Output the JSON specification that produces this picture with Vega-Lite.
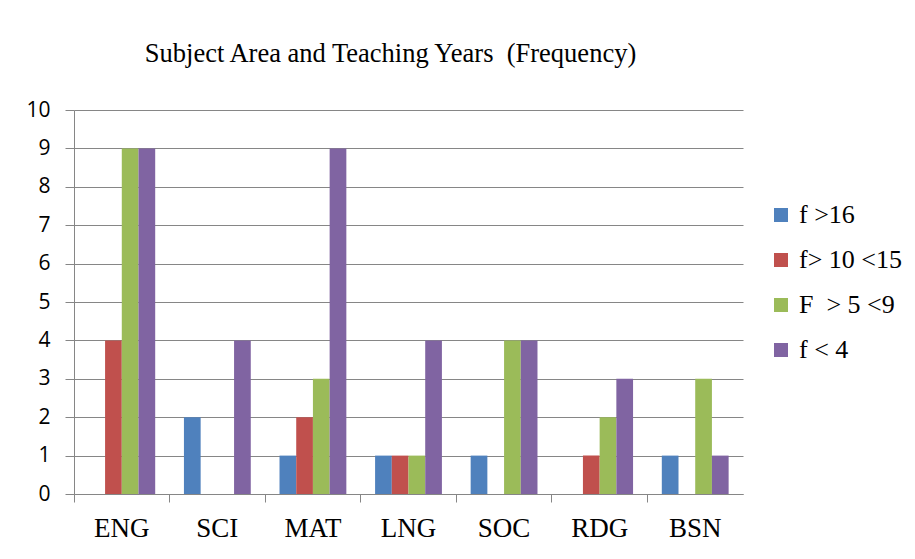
{
  "$schema": "https://vega.github.io/schema/vega-lite/v6.json",
  "width": 669,
  "height": 384,
  "autosize": {"type": "none"},
  "padding": {"left": 74, "top": 110, "right": 172, "bottom": 65},
  "background": "white",
  "title": {
    "text": "Subject Area and Teaching Years\u00a0 (Frequency)",
    "font": "Liberation Serif",
    "fontSize": 26.5,
    "fontWeight": "normal",
    "color": "black",
    "anchor": "middle",
    "dx": -18,
    "offset": 32
  },
  "data": {
    "values": [
      {"subject": "ENG", "group": "f >16", "value": 0},
      {"subject": "ENG", "group": "f> 10 <15", "value": 4},
      {"subject": "ENG", "group": "F\u00a0 > 5 <9", "value": 9},
      {"subject": "ENG", "group": "f < 4", "value": 9},
      {"subject": "SCI", "group": "f >16", "value": 2},
      {"subject": "SCI", "group": "f> 10 <15", "value": 0},
      {"subject": "SCI", "group": "F\u00a0 > 5 <9", "value": 0},
      {"subject": "SCI", "group": "f < 4", "value": 4},
      {"subject": "MAT", "group": "f >16", "value": 1},
      {"subject": "MAT", "group": "f> 10 <15", "value": 2},
      {"subject": "MAT", "group": "F\u00a0 > 5 <9", "value": 3},
      {"subject": "MAT", "group": "f < 4", "value": 9},
      {"subject": "LNG", "group": "f >16", "value": 1},
      {"subject": "LNG", "group": "f> 10 <15", "value": 1},
      {"subject": "LNG", "group": "F\u00a0 > 5 <9", "value": 1},
      {"subject": "LNG", "group": "f < 4", "value": 4},
      {"subject": "SOC", "group": "f >16", "value": 1},
      {"subject": "SOC", "group": "f> 10 <15", "value": 0},
      {"subject": "SOC", "group": "F\u00a0 > 5 <9", "value": 4},
      {"subject": "SOC", "group": "f < 4", "value": 4},
      {"subject": "RDG", "group": "f >16", "value": 0},
      {"subject": "RDG", "group": "f> 10 <15", "value": 1},
      {"subject": "RDG", "group": "F\u00a0 > 5 <9", "value": 2},
      {"subject": "RDG", "group": "f < 4", "value": 3},
      {"subject": "BSN", "group": "f >16", "value": 1},
      {"subject": "BSN", "group": "f> 10 <15", "value": 0},
      {"subject": "BSN", "group": "F\u00a0 > 5 <9", "value": 3},
      {"subject": "BSN", "group": "f < 4", "value": 1}
    ]
  },
  "mark": {"type": "bar"},
  "encoding": {
    "x": {
      "field": "subject",
      "type": "nominal",
      "sort": ["ENG", "SCI", "MAT", "LNG", "SOC", "RDG", "BSN"],
      "scale": {"paddingInner": 0, "paddingOuter": 0},
      "axis": {
        "title": null,
        "labelAngle": 0,
        "labelFont": "Liberation Serif",
        "labelFontSize": 27,
        "labelColor": "black",
        "bandPosition": 0,
        "tickSize": 8,
        "tickColor": "#868686",
        "domainColor": "#868686",
        "labelPadding": 13,
        "grid": false,
        "labelBaseline": "top"
      }
    },
    "xOffset": {
      "field": "group",
      "type": "nominal",
      "sort": ["f >16", "f> 10 <15", "F\u00a0 > 5 <9", "f < 4"],
      "scale": {"paddingInner": 0, "paddingOuter": 0.86}
    },
    "y": {
      "field": "value",
      "type": "quantitative",
      "scale": {"domain": [0, 10], "nice": false},
      "axis": {
        "title": null,
        "values": [0, 1, 2, 3, 4, 5, 6, 7, 8, 9, 10],
        "labelOverlap": false,
        "labelFont": "Open Sans",
        "labelFontSize": 21,
        "labelColor": "black",
        "tickSize": 9,
        "tickColor": "#868686",
        "domainColor": "#868686",
        "gridColor": "#868686",
        "gridWidth": 1,
        "labelPadding": 15
      }
    },
    "color": {
      "field": "group",
      "type": "nominal",
      "sort": ["f >16", "f> 10 <15", "F\u00a0 > 5 <9", "f < 4"],
      "scale": {
        "domain": ["f >16", "f> 10 <15", "F\u00a0 > 5 <9", "f < 4"],
        "range": ["#4F81BD", "#C0504D", "#9BBB59", "#8064A2"]
      },
      "legend": {
        "title": null,
        "orient": "none",
        "legendX": 694,
        "legendY": 92,
        "symbolType": "square",
        "symbolSize": 196,
        "symbolStrokeWidth": 0,
        "labelFont": "Liberation Serif",
        "labelFontSize": 26,
        "labelColor": "black",
        "labelOffset": 5,
        "rowPadding": 19,
        "labelLimit": 300
      }
    }
  },
  "config": {
    "view": {"stroke": null},
    "axis": {"domainWidth": 1, "tickWidth": 1}
  }
}
